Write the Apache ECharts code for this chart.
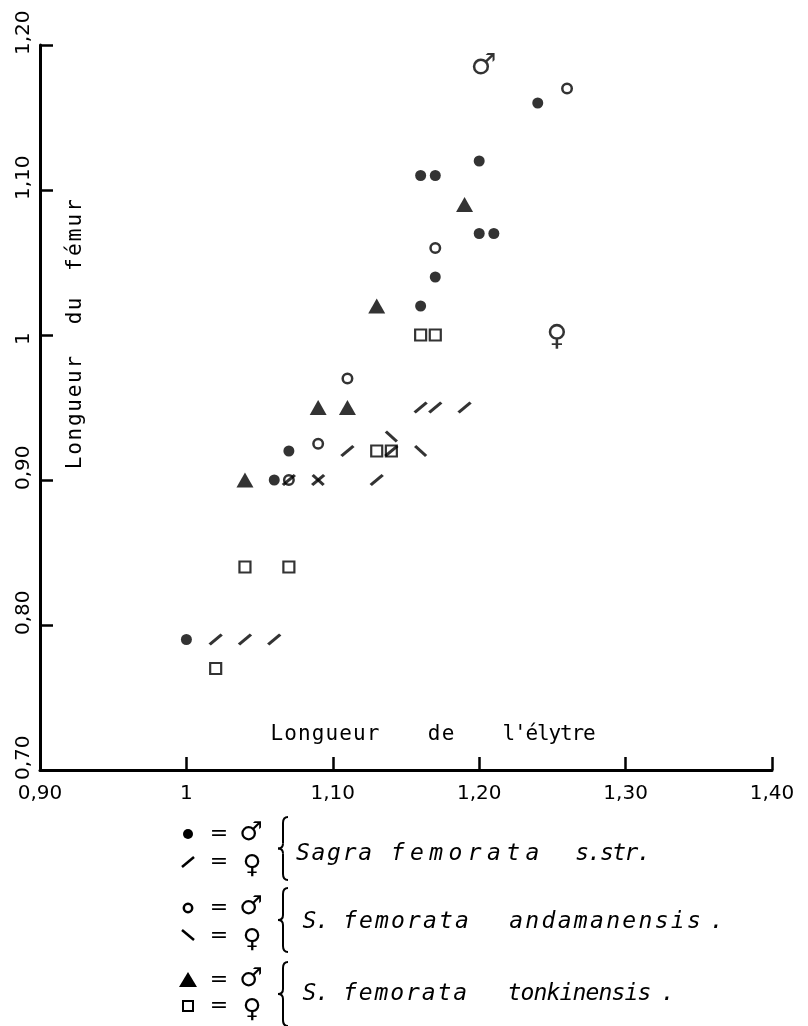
<!DOCTYPE html>
<html><head><meta charset="utf-8">
<script src="https://cdn.jsdelivr.net/npm/echarts@6/dist/echarts.min.js"></script>
<style>html,body{margin:0;padding:0;background:#fff}#c{width:808px;height:1026px}</style>
</head><body><div id="c"></div>
<script>
// Tick labels
const xTickLabels = ['0,90', '1', '1,10', '1,20', '1,30', '1,40'];
const yTickLabels = ['0,70', '0,80', '0,90', '1', '1,10', '1,20'];

// Sagra femorata s.str.  (● = male, / = female)   [élytre, fémur]
const sstrMale = [[1.00,0.79],[1.06,0.90],[1.07,0.92],[1.16,1.02],[1.17,1.04],[1.16,1.11],[1.17,1.11],[1.20,1.12],[1.20,1.07],[1.21,1.07],[1.24,1.16]];
const sstrFemale = [[1.02,0.79],[1.04,0.79],[1.06,0.79],[1.07,0.90],[1.09,0.90],[1.11,0.92],[1.13,0.90],[1.14,0.92],[1.16,0.95],[1.17,0.95],[1.19,0.95]];
// S. femorata andamanensis (○ = male, \ = female)
const andaMale = [[1.07,0.90],[1.09,0.925],[1.11,0.97],[1.17,1.06],[1.26,1.17]];
const andaFemale = [[1.09,0.90],[1.14,0.93],[1.16,0.92]];
// S. femorata tonkinensis (▲ = male, □ = female)
const tonkMale = [[1.04,0.90],[1.09,0.95],[1.11,0.95],[1.13,1.02],[1.19,1.09]];
const tonkFemale = [[1.02,0.77],[1.04,0.84],[1.07,0.84],[1.13,0.92],[1.14,0.92],[1.16,1.00],[1.17,1.00]];
// Sex annotations in the plot
const annotations = [{name:'♂', value:[1.203,1.185]}, {name:'♀', value:[1.253,0.998]}];

const INK = '#000';
const SLASH = 'path://M0,10L12,0';
const BACKSLASH = 'path://M0,0L12,10';

const chart = echarts.init(document.getElementById('c'), null, {renderer:'canvas'});

const MONO = '"DejaVu Sans Mono"';
// lettering: each character evenly spaced between two edges
function word(text, from, to, at, fs, italic, rot) {
  const n = text.length, step = (to - from) / n, out = [];
  for (let i = 0; i < n; i++) {
    const c = from + (i + 0.5) * step;
    const el = {type:'text', silent:true,
      style:{text:text[i], font:(italic?'italic ':'') + fs + 'px ' + MONO, fill:INK, align:'center', verticalAlign:'middle'}};
    if (rot) { el.x = at; el.y = c; el.rotation = Math.PI/2; }
    else { el.x = c; el.y = at; }
    out.push(el);
  }
  return out;
}
function brace(x, top, bottom) {
  const m = (top + bottom) / 2;
  const st = {fill:'none', stroke:INK, lineWidth:2};
  return [
    {type:'bezierCurve', silent:true, shape:{x1:x+5, y1:top, cpx1:x, cpy1:top, x2:x, y2:top+6}, style:st},
    {type:'line', silent:true, shape:{x1:x, y1:top+6, x2:x, y2:m-5}, style:st},
    {type:'bezierCurve', silent:true, shape:{x1:x, y1:m-5, cpx1:x, cpy1:m, x2:x-5, y2:m}, style:st},
    {type:'bezierCurve', silent:true, shape:{x1:x-5, y1:m, cpx1:x, cpy1:m, x2:x, y2:m+5}, style:st},
    {type:'line', silent:true, shape:{x1:x, y1:m+5, x2:x, y2:bottom-6}, style:st},
    {type:'bezierCurve', silent:true, shape:{x1:x, y1:bottom-6, cpx1:x, cpy1:bottom, x2:x+5, y2:bottom}, style:st}
  ];
}
function txt(text, x, y, fs) {
  return {type:'text', silent:true, x:x, y:y, style:{text:text, font:fs+'px "DejaVu Sans"', fill:INK, align:'center', verticalAlign:'middle'}};
}

let graphics = [
  // legend symbols
  {type:'circle', silent:true, shape:{cx:188, cy:834, r:5}, style:{fill:INK}},
  {type:'line', silent:true, shape:{x1:182, y1:867, x2:194, y2:857}, style:{stroke:INK, lineWidth:2.5}},
  {type:'circle', silent:true, shape:{cx:188, cy:908, r:4.2}, style:{fill:'#fff', stroke:INK, lineWidth:2.5}},
  {type:'line', silent:true, shape:{x1:182, y1:930, x2:194, y2:940}, style:{stroke:INK, lineWidth:2.5}},
  {type:'polygon', silent:true, shape:{points:[[188,972],[197,987],[179,987]]}, style:{fill:INK}},
  {type:'rect', silent:true, shape:{x:183, y:1001, width:10, height:10}, style:{fill:'#fff', stroke:INK, lineWidth:2}},
  // = ♂ / = ♀
  txt('=', 219, 834, 22), txt('♂', 251, 833, 26),
  txt('=', 219, 862, 22), txt('♀', 252, 866, 26),
  txt('=', 219, 908, 22), txt('♂', 251, 907, 26),
  txt('=', 219, 936, 22), txt('♀', 252, 940, 26),
  txt('=', 219, 980, 22), txt('♂', 251, 979, 26),
  txt('=', 219, 1006, 22), txt('♀', 252, 1010, 26)
];
graphics = graphics.concat(
  // x-axis title
  word('Longueur', 270, 380, 735, 21, false),
  word('de', 427, 455, 735, 21, false),
  word("l'élytre", 503, 595, 735, 21, false),
  // y-axis title (rotated, reading upward)
  word('Longueur', 470, 355, 76, 21, false, true),
  word('du', 325, 297, 76, 21, false, true),
  word('fémur', 272, 198, 76, 21, false, true),
  // species names
  word('Sagra', 295, 373, 854, 23, true),
  word('femorata', 388, 542, 854, 23, true),
  word('s.str.', 576, 650, 854, 23, true),
  word('S.', 303, 329, 922, 23, true),
  word('femorata', 342, 470, 922, 23, true),
  word('andamanensis', 508, 702, 922, 23, true),
  word('.', 710, 724, 922, 23, true),
  word('S.', 303, 329, 994, 23, true),
  word('femorata', 342, 468, 994, 23, true),
  word('tonkinensis', 508, 651, 994, 23, true),
  word('.', 661, 675, 994, 23, true),
  brace(283, 817, 880), brace(283, 888, 952), brace(283, 962, 1026)
);

const option = {
  backgroundColor:'#fff',
  animation:false,
  grid:{left:40, top:45, width:732, height:725, containLabel:false},
  xAxis:{type:'value', min:0.9, max:1.4, interval:0.1,
    axisLine:{show:true, onZero:false, lineStyle:{color:INK, width:3}},
    axisTick:{show:true, inside:true, length:13, lineStyle:{color:INK, width:2.5}},
    splitLine:{show:false},
    axisLabel:{margin:14, fontSize:20, fontFamily:'DejaVu Sans', color:INK, formatter:(v,i)=>xTickLabels[i]}
  },
  yAxis:{type:'value', min:0.7, max:1.2, interval:0.1,
    axisLine:{show:true, onZero:false, lineStyle:{color:INK, width:3}},
    axisTick:{show:true, inside:true, length:13, lineStyle:{color:INK, width:2.5}},
    splitLine:{show:false},
    axisLabel:{rotate:90, margin:6, formatter:(v,i)=>'{a|'+yTickLabels[i]+'}',
      rich:{a:{width:20, align:'left', fontSize:20, fontFamily:'DejaVu Sans', color:INK}}}
  },
  series:[
    {type:'scatter', name:'tonkinensis ♀', data:tonkFemale, symbol:'rect', symbolSize:11, silent:true,
      itemStyle:{color:'#fff', borderColor:INK, borderWidth:2.2}},
    {type:'scatter', name:'andamanensis ♂', data:andaMale, symbol:'circle', symbolSize:9.5, silent:true,
      itemStyle:{color:'#fff', borderColor:INK, borderWidth:2.5}},
    {type:'scatter', name:'s.str. ♂', data:sstrMale, symbol:'circle', symbolSize:11, silent:true,
      itemStyle:{color:INK}},
    {type:'scatter', name:'tonkinensis ♂', data:tonkMale, symbol:'triangle', symbolSize:[17,15], silent:true,
      itemStyle:{color:INK}},
    {type:'scatter', name:'s.str. ♀', data:sstrFemale, symbol:SLASH, symbolSize:[12,10], silent:true,
      itemStyle:{color:'transparent', borderColor:INK, borderWidth:3}},
    {type:'scatter', name:'andamanensis ♀', data:andaFemale, symbol:BACKSLASH, symbolSize:[11,10], silent:true,
      itemStyle:{color:'transparent', borderColor:INK, borderWidth:3}},
    {type:'scatter', name:'annotations', data:annotations, symbolSize:1, silent:true,
      itemStyle:{color:'transparent'},
      label:{show:true, position:'inside', formatter:'{b}', fontSize:29, fontFamily:'DejaVu Sans', color:INK}}
  ],
  graphic:graphics
};
chart.setOption(option);
</script>
</body></html>
